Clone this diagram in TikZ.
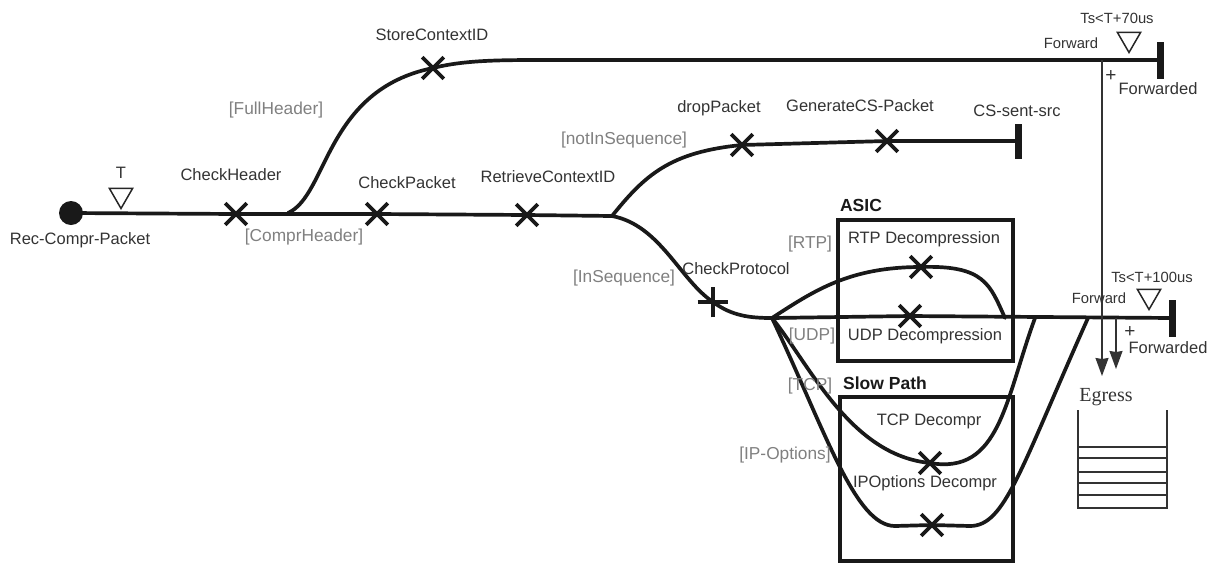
\documentclass[tikz,border=0pt]{standalone}
\usepackage{fontspec}
\setmainfont{Liberation Sans}
\newfontfamily\egressfont{Liberation Serif}
\usetikzlibrary{shapes.misc,shapes.geometric,arrows.meta}
\tikzset{
	flow/.style={line width=3.7pt,line join=round,line cap=round,black!90},
	txt/.style={inner sep=0pt,text=black!80},
	small/.style={txt,font=\fontsize{14.8}{17}\selectfont},
	guard/.style={inner sep=0pt,text=black!50,font=\fontsize{17.3}{20}\selectfont},
	title/.style={txt,text=black!90,font=\fontsize{17.5}{20}\selectfont\bfseries},
	cross/.style={cross out,draw=black!90,line width=3.7pt,minimum size=18pt,inner sep=0pt},
	timer/.style={regular polygon,regular polygon sides=3,shape border rotate=180,draw=black!85,line width=1.5pt,minimum size=27pt,inner sep=0pt},
	bar/.style={fill=black!90,minimum width=7pt,inner sep=0pt},
	region/.style={draw=black!90,line width=3.2pt},
	sig/.style={-{Stealth[length=18pt,width=13pt,inset=1pt]},line width=1.3pt,black!80}
}
\begin{document}
\begin{tikzpicture}[x=1pt,y=-1pt,font=\fontsize{16.5}{19}\selectfont]
	\useasboundingbox (0,0) rectangle (1213,563);
	% regions
	\draw[region] (838,220) rectangle (1013,361);
	\draw[region] (840,397) rectangle (1013,561);
	% egress queue
	\draw[line width=1.6pt,black!80] (1078,410)--(1078,508)--(1167,508)--(1167,410);
	\foreach \y in {447,458,472,483,495} \draw[line width=1.6pt,black!80] (1078,\y)--(1167,\y);
	% activities and forks
	\fill[black!90] (71,213) circle(12pt);
	\node[coordinate] (start) at (71,213) {};
	\node[cross] (chkhdr) at (236,214) {};
	\node[cross] (chkpkt) at (377,214) {};
	\node[cross] (retrieve) at (527,215) {};
	\node[cross] (store) at (433,68) {};
	\node[cross] (drop) at (742,145) {};
	\node[cross] (gencs) at (887,141) {};
	\node[cross,rotate=45] (chkproto) at (713,302) {};
	\node[cross] (rtp) at (921,267) {};
	\node[cross] (udp) at (910,316) {};
	\node[cross] (tcp) at (930,463) {};
	\node[cross] (ipopt) at (932,525) {};
	\node[coordinate] (forkhdr) at (288,213) {};
	\node[coordinate] (forkseq) at (612,216) {};
	\node[coordinate] (forkproto) at (772,318) {};
	\node[coordinate] (joinudp) at (1005,318) {};
	\node[coordinate] (jointcp) at (1035,318) {};
	\node[coordinate] (joinip) at (1088,318) {};
	\node[bar,minimum height=37pt] (endfwd) at (1160,60) {};
	\node[bar,minimum height=35pt] (endcs) at (1018,141) {};
	\node[bar,minimum height=37pt] (endfwdb) at (1172,318) {};
	\node[coordinate] (tapa) at (1102,60) {};
	\node[coordinate] (tapb) at (1116,318) {};
	\node[coordinate] (egressa) at (1102,376) {};
	\node[coordinate] (egressb) at (1116,369) {};
	% flows
	\draw[flow] (start)--(chkhdr.center)--(chkpkt.center)--(retrieve.center)--(forkseq);
	\draw[flow] (forkhdr) .. controls (328,195) and (325,90) .. (store.center) .. controls (465,60) and (500,60) .. (548,60) -- (endfwd.center);
	\draw[flow] (forkseq) .. controls (645,175) and (670,152) .. (drop.center) -- (gencs.center) -- (endcs.center);
	\draw[flow] (forkseq) .. controls (660,225) and (680,280) .. (chkproto.center) .. controls (732,316) and (750,318) .. (forkproto);
	\draw[flow] (forkproto) -- (udp.center) -- (endfwdb.center);
	\draw[flow] (forkproto) .. controls (815,290) and (850,267) .. (rtp.center) .. controls (985,265) and (990,285) .. (joinudp);
	\draw[flow] (forkproto) .. controls (810,365) and (850,455) .. (tcp.center) .. controls (1000,475) and (1005,400) .. (jointcp);
	\draw[flow] (forkproto) .. controls (825,430) and (855,526) .. (895,526) -- (ipopt.center) -- (970,526) .. controls (1005,526) and (1020,470) .. (joinip);
	\draw[sig] (tapa)--(egressa);
	\draw[sig] (tapb)--(egressb);
	% timers
	\node[timer] (timerT) at (121,195) {};
	\node[timer] (timerA) at (1129,39) {};
	\node[timer] (timerB) at (1149,296) {};
	% labels
	\node[txt] (lblT) at (121,173) {T};
	\node[txt] (lblrec) at (80,240) {Rec-Compr-Packet};
	\node[txt] (lblchkhdr) at (231,175) {CheckHeader};
	\node[txt] (lblchkpkt) at (407,183) {CheckPacket};
	\node[txt] (lblretrieve) at (548,177) {RetrieveContextID};
	\node[txt] (lblstore) at (432,35) {StoreContextID};
	\node[txt] (lbldrop) at (719,108) {dropPacket};
	\node[txt] (lblgencs) at (860,106) {GenerateCS-Packet};
	\node[txt] (lblcs) at (1017,111) {CS-sent-src};
	\node[txt] (lblchkproto) at (736,269) {CheckProtocol};
	\node[txt] (lblrtp) at (924,239) {RTP Decompression};
	\node[txt] (lbludp) at (925,336) {UDP Decompression};
	\node[txt] (lbltcp) at (929,421) {TCP Decompr};
	\node[txt] (lblip) at (925,483) {IPOptions Decompr};
	\node[title] (lblasic) at (861,205) {ASIC};
	\node[title] (lblslow) at (885,383) {Slow Path};
	\node[guard] (gcompr) at (304,237) {[ComprHeader]};
	\node[guard] (gfull) at (276,110) {[FullHeader]};
	\node[guard] (gnot) at (624,140) {[notInSequence]};
	\node[guard] (gin) at (624,278) {[InSequence]};
	\node[guard] (grtp) at (810,244) {[RTP]};
	\node[guard] (gudp) at (812,336) {[UDP]};
	\node[guard] (gtcp) at (810,386) {[TCP]};
	\node[guard] (gip) at (785,455) {[IP-Options]};
	\node[small] (fwda) at (1071,43) {Forward};
	\node[small] (tsa) at (1117,18) {Ts<T+70us};
	\node[txt,font=\fontsize{19}{20}\selectfont] (plusa) at (1111,76) {+};
	\node[txt] (fwdeda) at (1158,89) {Forwarded};
	\node[small] (fwdb) at (1099,298) {Forward};
	\node[small] (tsb) at (1152,277) {Ts<T+100us};
	\node[txt,font=\fontsize{19}{20}\selectfont] (plusb) at (1130,332) {+};
	\node[txt] (fwdedb) at (1168,348) {Forwarded};
	\node[txt,font=\egressfont\fontsize{20}{22}\selectfont] (lblegress) at (1106,397) {Egress};
\end{tikzpicture}
\end{document}
